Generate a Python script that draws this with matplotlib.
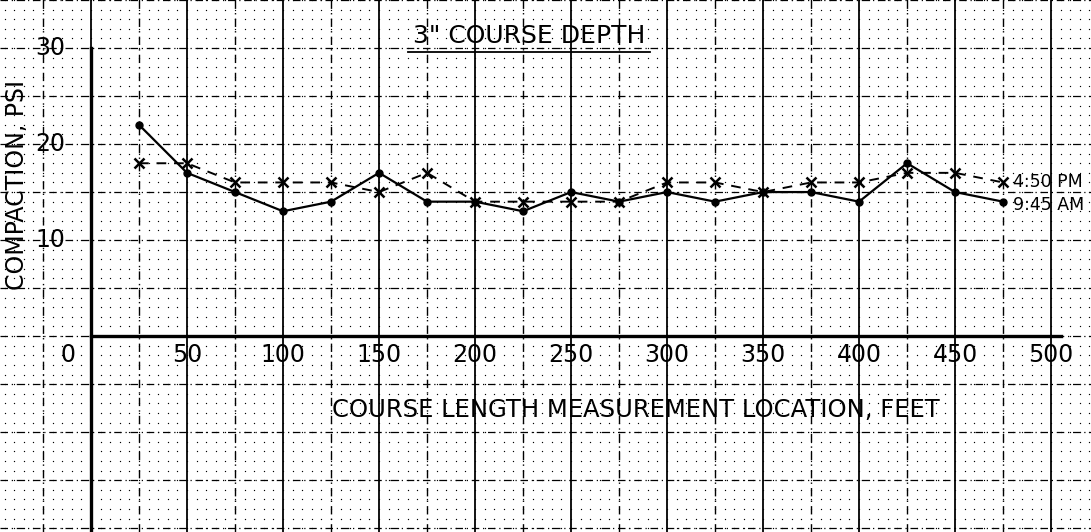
import numpy as np
import matplotlib
matplotlib.use("Agg")
import matplotlib.pyplot as plt

# measurement locations (ft) and compaction readings (psi)
location = [25, 50, 75, 100, 125, 150, 175, 200, 225, 250,
            275, 300, 325, 350, 375, 400, 425, 450, 475]
am_945 = [22, 17, 15, 13, 14, 17, 14, 14, 13, 15,
          14, 15, 14, 15, 15, 14, 18, 15, 14]
pm_450 = [18, 18, 16, 16, 16, 15, 17, 14, 14, 14,
          14, 16, 16, 15, 16, 16, 17, 17, 16]

x_ticks = [50, 100, 150, 200, 250, 300, 350, 400, 450, 500]
y_ticks = [10, 20, 30]

plt.rcParams['font.family'] = ['DejaVu Sans']

fig = plt.figure(figsize=(10.91, 5.32), dpi=100)
ax = fig.add_axes([0, 0, 1, 1])
ax.set_xlim(-47.4, 520.8)
ax.set_ylim(-20.4, 35.0)
ax.axis("off")

# graph paper: dot lattice
gx, gy = np.meshgrid(np.arange(-45, 525, 5), np.arange(-20, 36, 1))
ax.scatter(gx.ravel(), gy.ravel(), s=0.9, c="black", lw=0, zorder=1)

# graph paper: ruled lines
for xv in range(-25, 525, 25):
    if xv % 50 == 0:
        ax.axvline(xv, color="black", lw=1.3, zorder=1)
    else:
        ax.axvline(xv, color="black", lw=1.0, ls=(0, (6, 3, 1, 3)), zorder=1)
for yv in range(-20, 40, 5):
    ax.axhline(yv, color="black", lw=0.9, ls=(0, (6, 3, 1, 3)), zorder=1)

# chart axes
ax.plot([0, 0], [-21, 30], color="black", lw=2.4, zorder=3)
ax.plot([0, 505], [0, 0], color="black", lw=2.4, zorder=3)

# data
ax.plot(location, am_945, color="black", lw=1.6, marker="o", ms=5, zorder=4)
ax.plot(location, pm_450, color="black", lw=1.4, ls=(0, (5, 4)),
        marker="x", ms=7, mew=1.8, zorder=4)

# tick labels
for t in x_ticks:
    ax.text(t, -2.0, str(t), ha="center", va="center", fontsize=17, zorder=5)
for t in y_ticks:
    ax.text(-21, t, str(t), ha="center", va="center", fontsize=17, zorder=5)
ax.text(-12, -2.0, "0", ha="center", va="center", fontsize=17, zorder=5)

# titles
ax.text(228, 31.2, "3\" COURSE DEPTH", ha="center", va="center", fontsize=18,
        zorder=5)
ax.plot([165, 291], [29.6, 29.6], color="black", lw=1.3)
ax.text(284, -7.7, "COURSE LENGTH MEASUREMENT LOCATION, FEET",
        ha="center", va="center", fontsize=17.5)
ax.text(-38.5, 15.7, "COMPACTION, PSI", rotation=90,
        ha="center", va="center", fontsize=17)

# series labels
ax.text(480, 16.0, "4:50 PM", ha="left", va="center", fontsize=12.5)
ax.text(480, 13.7, "9:45 AM", ha="left", va="center", fontsize=12.5)

fig.savefig("out.png", dpi=100)
